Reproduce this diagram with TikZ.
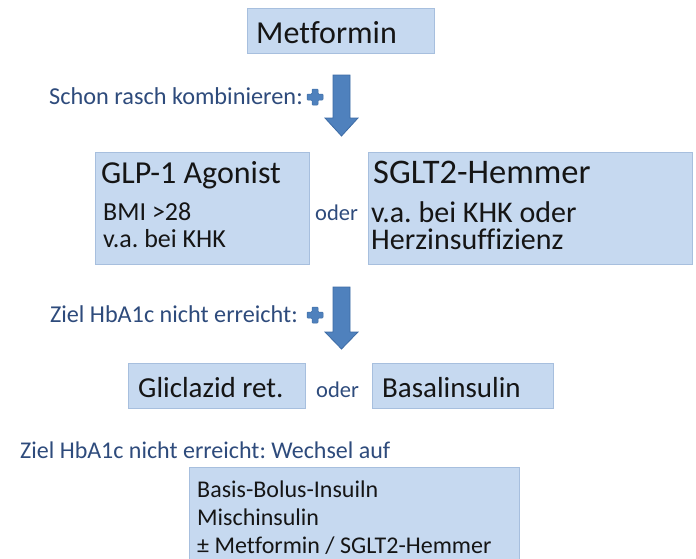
\documentclass[tikz,border=0pt]{standalone}
\usepackage{fontspec}
\setmainfont{Carlito}[Ligatures=NoCommon]
\definecolor{boxfill}{HTML}{C6D9F0}
\definecolor{boxline}{HTML}{A7BFDE}
\definecolor{arrfill}{HTML}{4F81BD}
\definecolor{arrline}{HTML}{3C6BA5}
\definecolor{lbl}{HTML}{2E4B7C}
\definecolor{txt}{HTML}{151515}
\begin{document}
\frenchspacing
\begin{tikzpicture}[x=1pt,y=-1pt,
  box/.style={draw=boxline, fill=boxfill, line width=1pt, inner sep=0pt, anchor=north west},
  tx/.style={inner sep=0pt, anchor=base west, text=txt},
  lb/.style={inner sep=0pt, text=lbl},
  blockarr/.style={fill=arrfill, draw=arrline, line width=0.8pt, line join=miter},
  plusmk/.style={fill=arrfill, draw=arrline, line width=0.5pt, rounded corners=0.8pt}]
\useasboundingbox (0,0) rectangle (696,558);
\clip (0,0) rectangle (696,558);
\fill[white] (0,0) rectangle (696,558);

% boxes
\node[box, minimum width=187pt, minimum height=45pt] (met) at (247,8) {};
\node[box, minimum width=214pt, minimum height=112pt] (glp) at (95,152) {};
\node[box, minimum width=324pt, minimum height=112pt] (sglt) at (368,152) {};
\node[box, minimum width=177pt, minimum height=45pt] (gli) at (128,363) {};
\node[box, minimum width=181pt, minimum height=45pt] (bas) at (372,363) {};
\node[box, minimum width=330pt, minimum height=110pt] (bb) at (189,467) {};

% box texts
\node[tx, font=\fontsize{32}{32}\selectfont] (metT) at (256,43) {Metformin};
\node[tx, font=\fontsize{32}{32}\selectfont] (glpT) at (101,183) {GLP-1 Agonist};
\node[tx, font=\fontsize{26}{26}\selectfont, text depth=0pt] (glp1) at (103,220) {BMI >28};
\node[tx, font=\fontsize{26}{26}\selectfont, text height=17pt] (glp2) at (103,247) {v.a. bei KHK};
\node[tx, font=\fontsize{34.5}{34.5}\selectfont] (sgltT) at (373,183) {SGLT2-Hemmer};
\node[tx, font=\fontsize{30}{30}\selectfont, text depth=0pt] (sglt1) at (371,222) {v.a. bei KHK oder};
\node[tx, font=\fontsize{30}{30}\selectfont, text height=19pt] (sglt2) at (371,249) {Herzinsuffizienz};
\node[tx, font=\fontsize{29}{29}\selectfont] (gliT) at (138,397) {Gliclazid ret.};
\node[tx, font=\fontsize{29}{29}\selectfont] (basT) at (382,397) {Basalinsulin};
\node[tx, font=\fontsize{24}{24}\selectfont, text depth=0pt] (bb1) at (197,497) {Basis-Bolus-Insuiln};
\node[tx, font=\fontsize{24}{24}\selectfont, text depth=0pt, text height=17pt] (bb2) at (197,525) {Mischinsulin};
\node[tx, font=\fontsize{24}{24}\selectfont, text height=17pt] (bb3) at (197,553) {± Metformin / SGLT2-Hemmer};

% oder
\node[lb, anchor=base west, font=\fontsize{22.5}{22.5}\selectfont] (oder1) at (315,220) {oder};
\node[lb, anchor=base west, font=\fontsize{22.5}{22.5}\selectfont] (oder2) at (316,397) {oder};

% labels
\node[lb, anchor=base east, font=\fontsize{24.3}{24.3}\selectfont] (lab1) at (303,104) {Schon rasch kombinieren:};
\node[lb, anchor=base east, font=\fontsize{24.2}{24.2}\selectfont] (lab2) at (298,322) {Ziel HbA1c nicht erreicht:};
\node[lb, anchor=base west, font=\fontsize{24}{24}\selectfont] (lab3) at (20,458) {Ziel HbA1c nicht erreicht: Wechsel auf};

% block arrows
\coordinate (a1top) at (341.5,75);
\coordinate (a2top) at (341.5,287);
\draw[blockarr] ([xshift=-8.5pt]a1top) -- ([xshift=8.5pt]a1top) -- ++(0,43) -- ++(8,0) -- (341.5,136) -- (325,118) -- (333,118) -- cycle;
\draw[blockarr] ([xshift=-8.5pt]a2top) -- ([xshift=8.5pt]a2top) -- ++(0,45) -- ++(8,0) -- (341.5,349) -- (325,332) -- (333,332) -- cycle;

% plus signs
\coordinate (p1) at (315,97);
\coordinate (p2) at (315,315);
\foreach \p in {p1,p2}{
  \draw[plusmk, shift={(\p)}] (-3,-8) -- (3,-8) -- (3,-3) -- (8,-3) -- (8,3) -- (3,3) -- (3,8) -- (-3,8) -- (-3,3) -- (-8,3) -- (-8,-3) -- (-3,-3) -- cycle;
}
\end{tikzpicture}
\end{document}
